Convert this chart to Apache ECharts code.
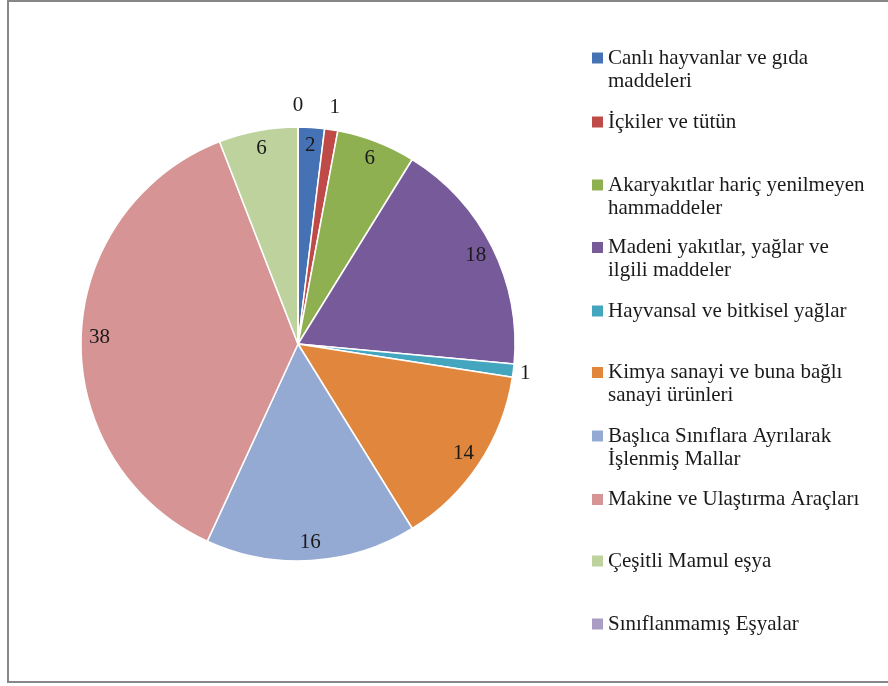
<!DOCTYPE html>
<html>
<head>
<meta charset="utf-8">
<script src="https://cdn.jsdelivr.net/npm/echarts@6/dist/echarts.min.js"></script>
<style>
  html, body { margin: 0; padding: 0; background: #fff; }
  #main { width: 888px; height: 686px; }
</style>
</head>
<body>
<div id="main"></div>
<script>
// sector names (legend order)
const categories = [
  'Canlı hayvanlar ve gıda maddeleri',
  'İçkiler ve tütün',
  'Akaryakıtlar hariç yenilmeyen hammaddeler',
  'Madeni yakıtlar, yağlar ve ilgili maddeler',
  'Hayvansal ve bitkisel yağlar',
  'Kimya sanayi ve buna bağlı sanayi ürünleri',
  'Başlıca Sınıflara Ayrılarak İşlenmiş Mallar',
  'Makine ve Ulaştırma Araçları',
  'Çeşitli Mamul eşya',
  'Sınıflanmamış Eşyalar'
];
// share in %
const values = [2, 1, 6, 18, 1, 14, 16, 38, 6, 0];
// how the legend text wraps
const legendLines = [
  ['Canlı hayvanlar ve gıda', 'maddeleri'],
  ['İçkiler ve tütün'],
  ['Akaryakıtlar hariç yenilmeyen', 'hammaddeler'],
  ['Madeni yakıtlar, yağlar ve', 'ilgili maddeler'],
  ['Hayvansal ve bitkisel yağlar'],
  ['Kimya sanayi ve buna bağlı', 'sanayi ürünleri'],
  ['Başlıca Sınıflara Ayrılarak', 'İşlenmiş Mallar'],
  ['Makine ve Ulaştırma Araçları'],
  ['Çeşitli Mamul eşya'],
  ['Sınıflanmamış Eşyalar']
];

const colors = ['#4472b4', '#be4b48', '#8fb050', '#765a9a', '#44a5bf',
  '#e0863d', '#95aad3', '#d69594', '#bdd29d', '#aa9dc4'];
const legendY = [58, 122, 185, 247.5, 311, 372.5, 436, 499.5, 561, 624];

const font = '"Liberation Serif", "DejaVu Serif", serif';
const fs = 21;
const cx = 298, cy = 344, R = 217;

const chartDom = document.getElementById('main');
const myChart = echarts.init(chartDom);

const pieData = categories.map((name, i) => ({ name, value: values[i] }));

const legends = categories.map((name, i) => ({
  data: [name],
  left: 592,
  top: legendY[i] - fs / 2,
  padding: 0,
  icon: 'rect',
  itemWidth: 11,
  itemHeight: 11,
  itemStyle: { borderWidth: 0 },
  selectedMode: false,
  formatter: () => legendLines[i][0],
  textStyle: { fontFamily: font, fontSize: fs, color: '#1a1a1a', lineHeight: fs }
}));

const secondLines = [];
legendLines.forEach((lines, i) => {
  if (lines.length > 1) {
    secondLines.push({
      type: 'text',
      left: 608,
      top: legendY[i] + 23 - fs / 2,
      style: { text: lines[1], font: fs + 'px ' + font, fill: '#1a1a1a' }
    });
  }
});

// outer labels of the tiny slices; the one on the right sits closer
const outerData = pieData.map((d, i) => i === 4
  ? Object.assign({}, d, { label: { offset: [-10, 0] } })
  : d);

const option = {
  animation: false,
  color: colors,
  legend: legends,
  graphic: [
    {
      type: 'rect',
      shape: { x: 8, y: 1, width: 890, height: 681 },
      style: { fill: 'none', stroke: '#878787', lineWidth: 2 },
      silent: true
    }
  ].concat(secondLines),
  series: [
    {
      type: 'pie',
      center: [cx, cy],
      radius: [0, R],
      startAngle: 90,
      clockwise: true,
      avoidLabelOverlap: false,
      label: { show: false },
      labelLine: { show: false },
      itemStyle: { borderColor: '#fff', borderWidth: 1.5 },
      data: pieData
    },
    {
      // labels inside the big slices
      type: 'pie',
      center: [cx, cy],
      radius: [174, R],
      startAngle: 90,
      silent: true,
      avoidLabelOverlap: false,
      itemStyle: { color: 'rgba(0,0,0,0)' },
      label: {
        position: 'inside',
        fontFamily: font, fontSize: fs, color: '#1a1a1a',
        formatter: p => p.value >= 2 ? String(p.value) : ''
      },
      labelLine: { show: false },
      data: pieData
    },
    {
      // labels just outside the small slices
      type: 'pie',
      center: [cx, cy],
      radius: [219, 253],
      startAngle: 90,
      silent: true,
      avoidLabelOverlap: false,
      itemStyle: { color: 'rgba(0,0,0,0)' },
      label: {
        position: 'inside',
        fontFamily: font, fontSize: fs, color: '#1a1a1a',
        formatter: p => p.value < 2 ? String(p.value) : ''
      },
      labelLine: { show: false },
      data: outerData
    }
  ]
};

myChart.setOption(option);
</script>
</body>
</html>
